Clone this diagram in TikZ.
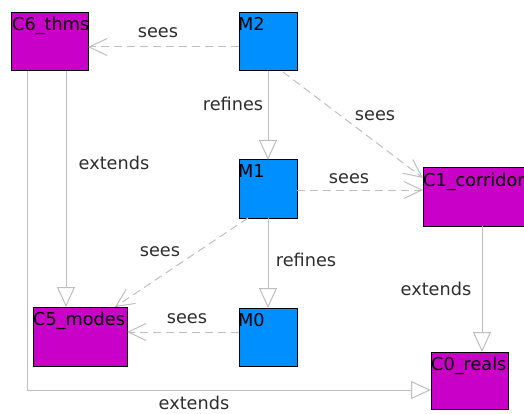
\documentclass[tikz,border=0pt]{standalone}
\usepackage{fontspec}
\setmainfont{DejaVu Sans}
\usetikzlibrary{arrows.meta,calc}
\definecolor{ctxcol}{RGB}{200,0,200}
\definecolor{mchcol}{RGB}{0,143,255}
\definecolor{linecol}{RGB}{190,190,190}
\definecolor{lblcol}{RGB}{45,45,45}
\begin{document}
\begin{tikzpicture}[x=1pt,y=-1pt,
  font=\fontsize{17.7}{20}\selectfont,
  box/.style={draw=black,line width=1pt,anchor=north west,inner sep=0pt,outer sep=0pt},
  ctx/.style={box,fill=ctxcol},
  mch/.style={box,fill=mchcol,minimum width=58pt,minimum height=58pt},
  ttl/.style={anchor=base west,inner sep=0pt,text=black},
  lbl/.style={inner sep=0pt,text=lblcol},
  link/.style={draw=linecol,line width=1pt},
  sees/.style={link,dash pattern=on 8pt off 5pt,-{Straight Barb[length=18pt,width=17pt,line width=1pt]}},
  gen/.style={link,-{Triangle[open,length=20pt,width=18pt,fill=white,line width=1pt]}}
]
\useasboundingbox (0,0) rectangle (524,414);
% boxes
\node[ctx,minimum width=77pt,minimum height=58pt] (c6) at (11,13) {};
\node[mch] (m2) at (239,13) {};
\node[mch] (m1) at (239,160) {};
\node[ctx,minimum width=112pt,minimum height=58pt] (c1) at (423,168) {};
\node[ctx,minimum width=94pt,minimum height=59pt] (c5) at (33,307) {};
\node[mch] (m0) at (239,308) {};
\node[ctx,minimum width=77pt,minimum height=57pt] (c0) at (431,352) {};
% titles
\node[ttl] (c6t) at ($(c6.north west)+(1,18)$) {C6\_thms};
\node[ttl] (m2t) at ($(m2.north west)+(-1,18)$) {M2};
\node[ttl] (m1t) at ($(m1.north west)+(-1,18)$) {M1};
\node[ttl] (c1t) at ($(c1.north west)+(0,18)$) {C1\_corridor};
\node[ttl] (c5t) at ($(c5.north west)+(0,18)$) {C5\_modes};
\node[ttl] (m0t) at ($(m0.north west)+(-1,18)$) {M0};
\node[ttl] (c0t) at ($(c0.north west)+(0,18)$) {C0\_reals};
% connectors
\draw[sees] ($(m2.north west)+(0,34)$) -- ($(c6.north east)+(0,34)$);
\draw[gen] ($(m2.south west)+(29,0)$) -- ($(m1.north west)+(29,0)$);
\draw[sees] ($(m2.south west)+(44,1)$) -- ($(c1.north west)+(0,10)$);
\draw[sees] ($(m1.north east)+(0,30)$) -- ($(c1.north west)+(0,22)$);
\draw[sees] ($(m1.south west)+(9,0)$) -- ($(c5.north west)+(82,0)$);
\draw[gen] ($(m1.south west)+(29,0)$) -- ($(m0.north west)+(29,0)$);
\draw[sees] ($(m0.north west)+(0,24)$) -- ($(c5.north east)+(0,25)$);
\draw[gen] ($(c6.south west)+(55,0)$) -- ($(c5.north west)+(33,0)$);
\draw[gen] ($(c6.south west)+(16,0)$) |- ($(c0.north west)+(0,38)$);
\draw[gen] ($(c1.south west)+(59,0)$) -- ($(c0.north west)+(51,0)$);
% labels
\node[lbl] (l1) at (158,33) {sees};
\node[lbl] (l2) at (233,104) {refines};
\node[lbl] (l3) at (375,116) {sees};
\node[lbl] (l4) at (349,179) {sees};
\node[lbl] (l5) at (160,252) {sees};
\node[lbl] (l6) at (306,260) {refines};
\node[lbl] (l7) at (187,319) {sees};
\node[lbl] (l8) at (114,163) {extends};
\node[lbl] (l9) at (436,289) {extends};
\node[lbl] (l10) at (194,403) {extends};
\end{tikzpicture}
\end{document}
